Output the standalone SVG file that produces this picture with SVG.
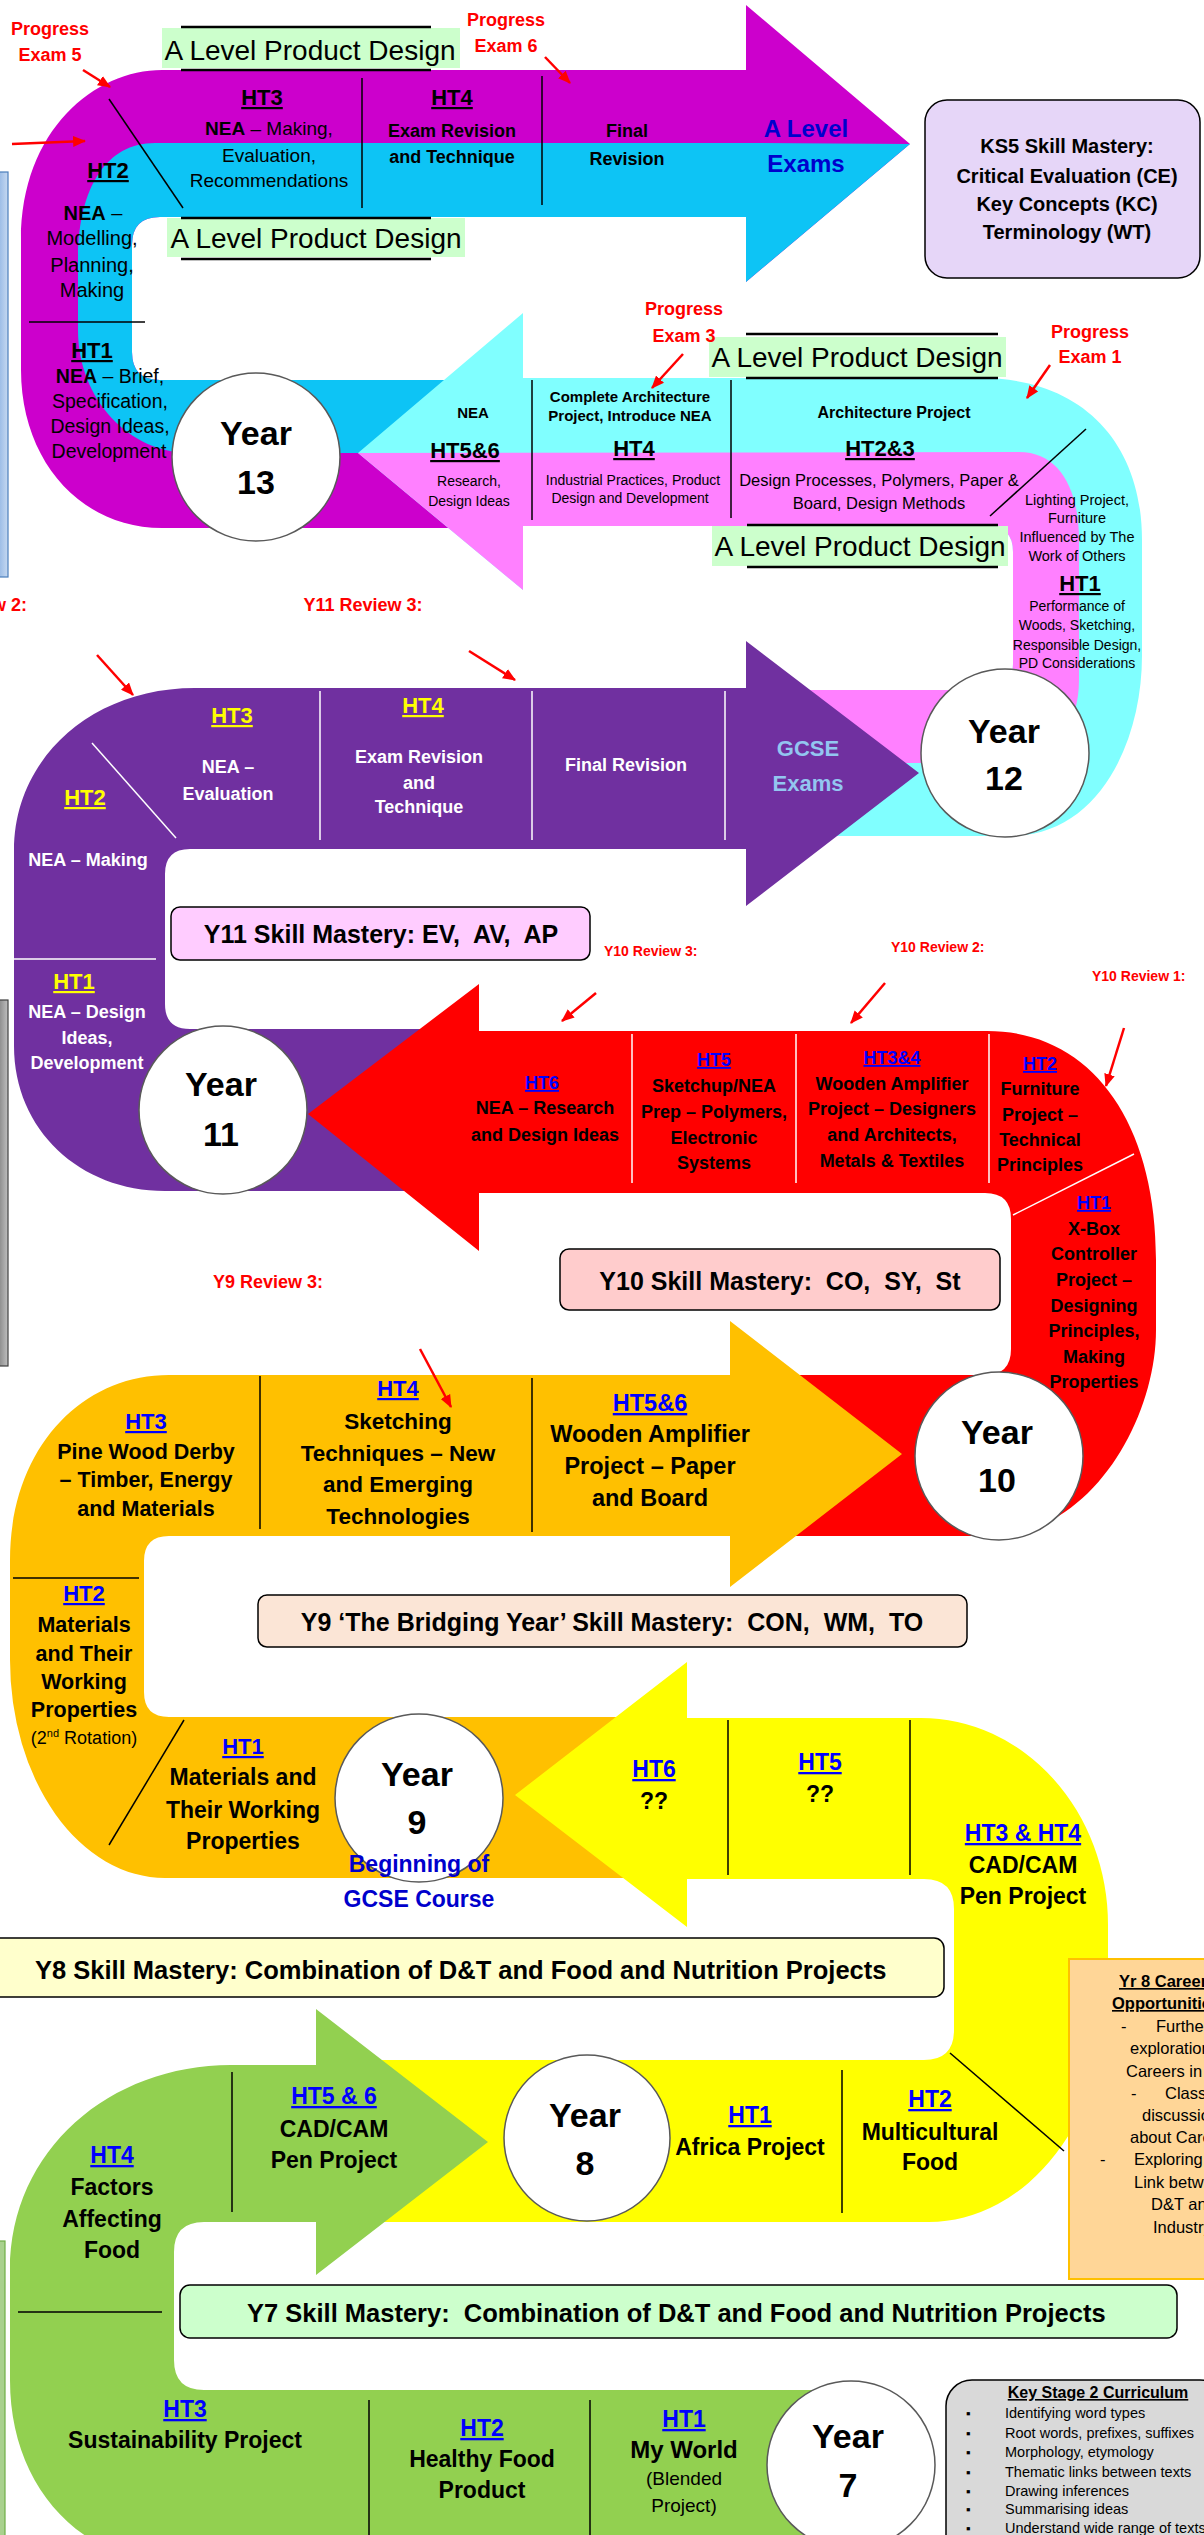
<svg xmlns="http://www.w3.org/2000/svg" width="1204" height="2535" viewBox="0 0 1204 2535">
<style>
text{font-family:"Liberation Sans",Arial,sans-serif;fill:#000}
.b{font-weight:bold}
.c{text-anchor:middle}
.e{text-anchor:end}
.u{text-decoration:underline}
.r{fill:#FF0000}
.bl{fill:#0000FF}
.db{fill:#0000CC}
.y{fill:#FFFF00}
.w{fill:#FFFFFF}
.ln{stroke:#000;stroke-width:1.5;fill:none}
.wl{stroke:#FFFFFF;stroke-width:1.5;fill:none}
.yc{fill:#FFFFFF;stroke:#595959;stroke-width:1.5}
.yt{font-size:34px;font-weight:bold;text-anchor:middle}
.box{stroke:#000;stroke-width:1.5}
.ra{stroke:#FF0000;stroke-width:2.5;fill:none;marker-end:url(#ah)}
.lbl{fill:#CCFFCC}
.bar{stroke:#000;stroke-width:2.5}
.ald{font-size:28px;text-anchor:middle}
</style>
<defs>
<marker id="ah" viewBox="0 0 12 10" refX="11" refY="5" markerWidth="13" markerHeight="11" markerUnits="userSpaceOnUse" orient="auto"><path d="M0,0 L12,5 L0,10 Z" fill="#FF0000"/></marker>
<linearGradient id="gb" x1="0" y1="0" x2="1" y2="0"><stop offset="0" stop-color="#8FB4E3"/><stop offset="1" stop-color="#C6D9F1"/></linearGradient>
<linearGradient id="gy" x1="0" y1="0" x2="1" y2="0"><stop offset="0" stop-color="#7F7F7F"/><stop offset="1" stop-color="#BFBFBF"/></linearGradient>
</defs>
<rect width="1204" height="2535" fill="#FFFFFF"/>

<g id="side-panels">
<rect x="-3" y="172" width="11" height="405" fill="url(#gb)" stroke="#4A7EBB" stroke-width="1.2"/>
<rect x="-3" y="1000" width="11" height="366" fill="url(#gy)" stroke="#404040" stroke-width="1.2"/>
<rect x="-3" y="2241" width="8" height="310" fill="#A9D18E" stroke="#70AD47" stroke-width="1.2"/>
</g>

<g id="year13">
<path fill="#CC00CC" d="M162,70 L746,70 L746,5 L910,144 L746,282 L746,217 L160,217 Q132,217 132,245 L132,352 Q132,380 160,380 L500,380 L500,528 L162,528 C80,528 21,460 21,370 L21,240 C21,130 95,70 162,70 Z"/>
<path fill="#0DC4F5" d="M155,143 L746,143 L910,144 L746,282 L746,217 L160,217 Q132,217 132,245 L132,352 Q132,380 160,380 L500,380 L500,453 L190,453 C130,453 78,400 78,330 L78,260 C78,190 105,143 155,143 Z"/>
<line class="ln" x1="362" y1="78" x2="362" y2="208"/>
<line class="ln" x1="542" y1="76" x2="542" y2="205"/>
<line class="ln" x1="109" y1="99" x2="183" y2="208"/>
<line class="ln" x1="29" y1="322" x2="145" y2="322"/>
<rect class="lbl" x="162" y="28" width="298" height="40"/>
<line class="bar" x1="181" y1="27" x2="431" y2="27"/>
<line class="bar" x1="181" y1="70" x2="431" y2="70"/>
<text class="ald" x="310" y="60">A Level Product Design</text>
<rect class="lbl" x="167" y="218" width="298" height="39"/>
<line class="bar" x1="181" y1="218" x2="431" y2="218"/>
<line class="bar" x1="181" y1="259" x2="431" y2="259"/>
<text class="ald" x="316" y="248">A Level Product Design</text>
<text class="b c u" x="262" y="105" font-size="22">HT3</text>
<text class="c" x="269" y="135" font-size="19"><tspan class="b">NEA</tspan> – Making,</text>
<text class="c" x="269" y="162" font-size="19">Evaluation,</text>
<text class="c" x="269" y="187" font-size="19">Recommendations</text>
<text class="b c u" x="452" y="105" font-size="22">HT4</text>
<text class="b c" x="452" y="137" font-size="18">Exam Revision</text>
<text class="b c" x="452" y="163" font-size="18">and Technique</text>
<text class="b c" x="627" y="137" font-size="18">Final</text>
<text class="b c" x="627" y="165" font-size="18">Revision</text>
<text class="b c db" x="806" y="137" font-size="24">A Level</text>
<text class="b c db" x="806" y="172" font-size="24">Exams</text>
<text class="b c u" x="108" y="178" font-size="22">HT2</text>
<text class="c" x="93" y="220" font-size="20"><tspan class="b">NEA</tspan> –</text>
<text class="c" x="92" y="245" font-size="20">Modelling,</text>
<text class="c" x="92" y="272" font-size="20">Planning,</text>
<text class="c" x="92" y="297" font-size="20">Making</text>
<text class="b c u" x="92" y="358" font-size="22">HT1</text>
<text class="c" x="110" y="383" font-size="19.5"><tspan class="b">NEA</tspan> – Brief,</text>
<text class="c" x="110" y="408" font-size="19.5">Specification,</text>
<text class="c" x="110" y="433" font-size="19.5">Design Ideas,</text>
<text class="c" x="109" y="458" font-size="19.5">Development</text>
<circle class="yc" cx="256" cy="457" r="84"/>
<text class="yt" x="256" y="445">Year</text>
<text class="yt" x="256" y="494">13</text>
</g>

<g id="ks5-box">
<rect class="box" x="925" y="100" width="275" height="178" rx="22" fill="#E6D6F8"/>
<text class="b c" x="1067" y="153" font-size="20">KS5 Skill Mastery:</text>
<text class="b c" x="1067" y="183" font-size="20">Critical Evaluation (CE)</text>
<text class="b c" x="1067" y="211" font-size="20">Key Concepts (KC)</text>
<text class="b c" x="1067" y="239" font-size="20">Terminology (WT)</text>
</g>

<g id="year12">
<path fill="#80FFFF" d="M358,453 L523,313 L523,378 L980,378 C1080,378 1142,440 1142,540 L1142,656 C1142,740 1100,836 1010,836 L780,836 L780,690 L987,690 Q1013,690 1013,664 L1013,552 Q1013,526 987,526 L523,526 L523,590 Z"/>
<path fill="#FF80FF" d="M358,453 L1019,452 C1060,452 1079,490 1079,540 L1079,680 C1079,730 1050,763 1000,763 L780,763 L780,690 L987,690 Q1013,690 1013,664 L1013,552 Q1013,526 987,526 L523,526 L523,590 Z"/>
<line class="ln" x1="532" y1="380" x2="532" y2="520"/>
<line class="ln" x1="731" y1="380" x2="731" y2="518"/>
<line class="ln" x1="990" y1="516" x2="1086" y2="429"/>
<rect class="lbl" x="709" y="337" width="297" height="40"/>
<line class="bar" x1="746" y1="334" x2="998" y2="334"/>
<line class="bar" x1="746" y1="378" x2="998" y2="378"/>
<text class="ald" x="857" y="367">A Level Product Design</text>
<rect class="lbl" x="712" y="526" width="296" height="40"/>
<line class="bar" x1="747" y1="525" x2="998" y2="525"/>
<line class="bar" x1="747" y1="567" x2="998" y2="567"/>
<text class="ald" x="860" y="556">A Level Product Design</text>
<text class="b c" x="473" y="418" font-size="15">NEA</text>
<text class="b c u" x="465" y="458" font-size="22">HT5&amp;6</text>
<text class="c" x="469" y="486" font-size="14">Research,</text>
<text class="c" x="469" y="506" font-size="14">Design Ideas</text>
<text class="b c" x="630" y="402" font-size="15">Complete Architecture</text>
<text class="b c" x="630" y="421" font-size="15">Project, Introduce NEA</text>
<text class="b c u" x="634" y="456" font-size="22">HT4</text>
<text class="c" x="633" y="485" font-size="14">Industrial Practices, Product</text>
<text class="c" x="630" y="503" font-size="14">Design and Development</text>
<text class="b c" x="894" y="418" font-size="16">Architecture Project</text>
<text class="b c u" x="880" y="456" font-size="22">HT2&amp;3</text>
<text class="c" x="879" y="486" font-size="16.5">Design Processes, Polymers, Paper &amp;</text>
<text class="c" x="879" y="509" font-size="16.5">Board, Design Methods</text>
<text class="c" x="1077" y="505" font-size="14.5">Lighting Project,</text>
<text class="c" x="1077" y="523" font-size="14.5">Furniture</text>
<text class="c" x="1077" y="542" font-size="14.5">Influenced by The</text>
<text class="c" x="1077" y="561" font-size="14.5">Work of Others</text>
<text class="b c u" x="1080" y="591" font-size="22">HT1</text>
<text class="c" x="1077" y="611" font-size="14">Performance of</text>
<text class="c" x="1077" y="630" font-size="14">Woods, Sketching,</text>
<text class="c" x="1077" y="650" font-size="14">Responsible Design,</text>
<text class="c" x="1077" y="668" font-size="14">PD Considerations</text>
<circle class="yc" cx="1005" cy="753" r="84"/>
<text class="yt" x="1004" y="743">Year</text>
<text class="yt" x="1004" y="790">12</text>
</g>

<g id="year11">
<path fill="#7030A0" d="M195,688 L746,688 L746,641 L919,773 L746,906 L746,849 L190,849 Q165,849 165,874 L165,1004 Q165,1029 190,1029 L450,1029 L450,1191 L165,1191 C80,1191 14,1130 14,1046 L14,850 C14,760 90,688 195,688 Z"/>
<line class="wl" x1="320" y1="691" x2="320" y2="840"/>
<line class="wl" x1="532" y1="691" x2="532" y2="840"/>
<line class="wl" x1="725" y1="691" x2="725" y2="840"/>
<line class="wl" x1="92" y1="743" x2="176" y2="838"/>
<line class="wl" x1="13" y1="959" x2="156" y2="959"/>
<text class="b c u y" x="232" y="723" font-size="22">HT3</text>
<text class="b c w" x="228" y="773" font-size="18">NEA –</text>
<text class="b c w" x="228" y="800" font-size="18">Evaluation</text>
<text class="b c u y" x="423" y="713" font-size="22">HT4</text>
<text class="b c w" x="419" y="763" font-size="18">Exam Revision</text>
<text class="b c w" x="419" y="789" font-size="18">and</text>
<text class="b c w" x="419" y="813" font-size="18">Technique</text>
<text class="b c w" x="626" y="771" font-size="18">Final Revision</text>
<text class="b c" x="808" y="756" font-size="22" fill="#93C6F0" style="fill:#93C6F0">GCSE</text>
<text class="b c" x="808" y="791" font-size="22" style="fill:#93C6F0">Exams</text>
<text class="b c u y" x="85" y="805" font-size="22">HT2</text>
<text class="b c w" x="88" y="866" font-size="18">NEA – Making</text>
<text class="b c u y" x="74" y="989" font-size="22">HT1</text>
<text class="b c w" x="87" y="1018" font-size="18">NEA – Design</text>
<text class="b c w" x="87" y="1044" font-size="18">Ideas,</text>
<text class="b c w" x="87" y="1069" font-size="18">Development</text>
<circle class="yc" cx="223" cy="1110" r="84"/>
<text class="yt" x="221" y="1096">Year</text>
<text class="yt" x="221" y="1146">11</text>
</g>

<g id="y11-box">
<rect class="box" x="171" y="907" width="419" height="53" rx="9" fill="#FFCCFF"/>
<text class="b c" x="381" y="943" font-size="25">Y11 Skill Mastery: EV,&#160; AV,&#160; AP</text>
</g>

<g id="year10">
<path fill="#FF0000" d="M308,1114 L479,984 L479,1031 L987,1031 C1090,1031 1156,1120 1156,1260 L1156,1330 C1156,1420 1090,1536 990,1536 L760,1536 L760,1375 L985,1375 Q1011,1375 1011,1349 L1011,1219 Q1011,1193 985,1193 L479,1193 L479,1251 Z"/>
<line class="wl" x1="632" y1="1034" x2="632" y2="1183"/>
<line class="wl" x1="796" y1="1034" x2="796" y2="1183"/>
<line class="wl" x1="989" y1="1034" x2="989" y2="1183"/>
<line class="wl" x1="1013" y1="1215" x2="1134" y2="1154"/>
<text class="b c u bl" x="542" y="1089" font-size="18">HT6</text>
<text class="b c" x="545" y="1114" font-size="18">NEA – Research</text>
<text class="b c" x="545" y="1141" font-size="18">and Design Ideas</text>
<text class="b c u bl" x="714" y="1066" font-size="18">HT5</text>
<text class="b c" x="714" y="1092" font-size="18">Sketchup/NEA</text>
<text class="b c" x="714" y="1118" font-size="18">Prep – Polymers,</text>
<text class="b c" x="714" y="1144" font-size="18">Electronic</text>
<text class="b c" x="714" y="1169" font-size="18">Systems</text>
<text class="b c u bl" x="892" y="1064" font-size="18">HT3&amp;4</text>
<text class="b c" x="892" y="1090" font-size="18">Wooden Amplifier</text>
<text class="b c" x="892" y="1115" font-size="18">Project – Designers</text>
<text class="b c" x="892" y="1141" font-size="18">and Architects,</text>
<text class="b c" x="892" y="1167" font-size="18">Metals &amp; Textiles</text>
<text class="b c u bl" x="1040" y="1070" font-size="18">HT2</text>
<text class="b c" x="1040" y="1095" font-size="18">Furniture</text>
<text class="b c" x="1040" y="1121" font-size="18">Project –</text>
<text class="b c" x="1040" y="1146" font-size="18">Technical</text>
<text class="b c" x="1040" y="1171" font-size="18">Principles</text>
<text class="b c u bl" x="1094" y="1209" font-size="18">HT1</text>
<text class="b c" x="1094" y="1235" font-size="18">X-Box</text>
<text class="b c" x="1094" y="1260" font-size="18">Controller</text>
<text class="b c" x="1094" y="1286" font-size="18">Project –</text>
<text class="b c" x="1094" y="1312" font-size="18">Designing</text>
<text class="b c" x="1094" y="1337" font-size="18">Principles,</text>
<text class="b c" x="1094" y="1363" font-size="18">Making</text>
<text class="b c" x="1094" y="1388" font-size="18">Properties</text>
<circle class="yc" cx="999" cy="1456" r="84"/>
<text class="yt" x="997" y="1444">Year</text>
<text class="yt" x="997" y="1492">10</text>
</g>

<g id="y10-box">
<rect class="box" x="560" y="1249" width="440" height="61" rx="9" fill="#FFCCCC"/>
<text class="b c" x="780" y="1290" font-size="25">Y10 Skill Mastery:&#160; CO,&#160; SY,&#160; St</text>
</g>

<g id="year9">
<path fill="#FFC000" d="M169,1375 L730,1375 L730,1321 L902,1454 L730,1587 L730,1536 L169,1536 Q144,1536 144,1561 L144,1692 Q144,1717 169,1717 L650,1717 L650,1878 L165,1878 A155 218 0 0 1 10,1660 L10,1560 C10,1450 80,1375 169,1375 Z"/>
<line class="ln" x1="260" y1="1376" x2="260" y2="1529"/>
<line class="ln" x1="532" y1="1378" x2="532" y2="1532"/>
<line class="ln" x1="13" y1="1578" x2="139" y2="1578"/>
<line class="ln" x1="184" y1="1720" x2="109" y2="1845"/>
<text class="b c u bl" x="146" y="1429" font-size="22">HT3</text>
<text class="b c" x="146" y="1459" font-size="21.5">Pine Wood Derby</text>
<text class="b c" x="146" y="1487" font-size="21.5">– Timber, Energy</text>
<text class="b c" x="146" y="1516" font-size="21.5">and Materials</text>
<text class="b c u bl" x="398" y="1396" font-size="22">HT4</text>
<text class="b c" x="398" y="1429" font-size="22.5">Sketching</text>
<text class="b c" x="398" y="1461" font-size="22.5">Techniques – New</text>
<text class="b c" x="398" y="1492" font-size="22.5">and Emerging</text>
<text class="b c" x="398" y="1524" font-size="22.5">Technologies</text>
<text class="b c u bl" x="650" y="1411" font-size="23.5">HT5&amp;6</text>
<text class="b c" x="650" y="1442" font-size="23.5">Wooden Amplifier</text>
<text class="b c" x="650" y="1474" font-size="23.5">Project – Paper</text>
<text class="b c" x="650" y="1506" font-size="23.5">and Board</text>
<text class="b c u bl" x="84" y="1601" font-size="22">HT2</text>
<text class="b c" x="84" y="1632" font-size="21.5">Materials</text>
<text class="b c" x="84" y="1661" font-size="21.5">and Their</text>
<text class="b c" x="84" y="1689" font-size="21.5">Working</text>
<text class="b c" x="84" y="1717" font-size="21.5">Properties</text>
<text class="c" x="84" y="1744" font-size="18">(2<tspan font-size="11" dy="-7">nd</tspan><tspan dy="7"> Rotation)</tspan></text>
<text class="b c u bl" x="243" y="1754" font-size="22">HT1</text>
<text class="b c" x="243" y="1785" font-size="23">Materials and</text>
<text class="b c" x="243" y="1818" font-size="23">Their Working</text>
<text class="b c" x="243" y="1849" font-size="23">Properties</text>
<circle class="yc" cx="419" cy="1798" r="84"/>
<text class="yt" x="417" y="1786">Year</text>
<text class="yt" x="417" y="1834">9</text>
<text class="b c db" x="419" y="1872" font-size="23">Beginning of</text>
<text class="b c db" x="419" y="1907" font-size="23">GCSE Course</text>
</g>

<g id="y9-box">
<rect class="box" x="258" y="1595" width="709" height="52" rx="9" fill="#FBE5D6"/>
<text class="b c" x="612" y="1631" font-size="25">Y9 &#8216;The Bridging Year&#8217; Skill Mastery:&#160; CON,&#160; WM,&#160; TO</text>
</g>

<g id="year8">
<path fill="#FFFF00" d="M515,1795 L687,1662 L687,1718 L921,1718 A187 207 0 0 1 1108,1925 L1108,1990 A179 232 0 0 1 929,2222 L330,2222 L330,2060 L924,2060 Q954,2060 954,2030 L954,1909 Q954,1879 924,1879 L687,1879 L687,1927 Z"/>
<line class="ln" x1="728" y1="1720" x2="728" y2="1875"/>
<line class="ln" x1="910" y1="1720" x2="910" y2="1875"/>
<line class="ln" x1="950" y1="2053" x2="1064" y2="2151"/>
<line class="ln" x1="842" y1="2070" x2="842" y2="2213"/>
<text class="b c u bl" x="654" y="1777" font-size="23">HT6</text>
<text class="b c" x="654" y="1809" font-size="23">??</text>
<text class="b c u bl" x="820" y="1770" font-size="23">HT5</text>
<text class="b c" x="820" y="1802" font-size="23">??</text>
<text class="b c u bl" x="1023" y="1841" font-size="23">HT3 &amp; HT4</text>
<text class="b c" x="1023" y="1873" font-size="23">CAD/CAM</text>
<text class="b c" x="1023" y="1904" font-size="23">Pen Project</text>
<text class="b c u bl" x="930" y="2107" font-size="23">HT2</text>
<text class="b c" x="930" y="2140" font-size="23">Multicultural</text>
<text class="b c" x="930" y="2170" font-size="23">Food</text>
<text class="b c u bl" x="750" y="2123" font-size="23">HT1</text>
<text class="b c" x="750" y="2155" font-size="23">Africa Project</text>
<circle class="yc" cx="587" cy="2138" r="83"/>
<text class="yt" x="585" y="2127">Year</text>
<text class="yt" x="585" y="2175">8</text>
</g>

<g id="careers-box">
<rect x="1069" y="1959" width="150" height="320" fill="#FFD697" stroke="#FFC000" stroke-width="2"/>
<text class="b u" x="1119" y="1987" font-size="16.5">Yr 8 Careers</text>
<text class="b u" x="1112" y="2009" font-size="16.5">Opportunities</text>
<text x="1121" y="2032" font-size="16.5">-</text>
<text x="1156" y="2032" font-size="16.5">Further</text>
<text x="1130" y="2054" font-size="16.5">exploration of</text>
<text x="1126" y="2077" font-size="16.5">Careers in D&amp;T</text>
<text x="1131" y="2099" font-size="16.5">-</text>
<text x="1165" y="2099" font-size="16.5">Class</text>
<text x="1142" y="2121" font-size="16.5">discussions</text>
<text x="1130" y="2143" font-size="16.5">about Careers</text>
<text x="1100" y="2165" font-size="16.5">-</text>
<text x="1134" y="2165" font-size="16.5">Exploring</text>
<text x="1134" y="2188" font-size="16.5">Link between</text>
<text x="1151" y="2210" font-size="16.5">D&amp;T and</text>
<text x="1153" y="2233" font-size="16.5">Industry</text>
</g>

<g id="y8-box">
<rect class="box" x="-10" y="1938" width="954" height="59" rx="10" fill="#FFFFCC"/>
<text class="b" x="35" y="1979" font-size="25.5">Y8 Skill Mastery: Combination of D&amp;T and Food and Nutrition Projects</text>
</g>

<g id="year7">
<path fill="#92D050" d="M231,2065 L316,2065 L316,2009 L488,2142 L316,2275 L316,2222 L204,2222 Q174,2222 174,2252 L174,2360 Q174,2390 204,2390 L860,2390 L860,2560 L140,2560 C60,2540 10,2470 10,2380 L10,2270 C10,2150 110,2065 231,2065 Z"/>
<line class="ln" x1="232" y1="2072" x2="232" y2="2212"/>
<line class="ln" x1="18" y1="2312" x2="162" y2="2312"/>
<line class="ln" x1="369" y1="2400" x2="369" y2="2535"/>
<line class="ln" x1="590" y1="2400" x2="590" y2="2535"/>
<text class="b c u bl" x="334" y="2104" font-size="23">HT5 &amp; 6</text>
<text class="b c" x="334" y="2137" font-size="23">CAD/CAM</text>
<text class="b c" x="334" y="2168" font-size="23">Pen Project</text>
<text class="b c u bl" x="112" y="2163" font-size="23">HT4</text>
<text class="b c" x="112" y="2195" font-size="23">Factors</text>
<text class="b c" x="112" y="2227" font-size="23">Affecting</text>
<text class="b c" x="112" y="2258" font-size="23">Food</text>
<text class="b c u bl" x="185" y="2417" font-size="23">HT3</text>
<text class="b c" x="185" y="2448" font-size="23">Sustainability Project</text>
<text class="b c u bl" x="482" y="2436" font-size="23">HT2</text>
<text class="b c" x="482" y="2467" font-size="23">Healthy Food</text>
<text class="b c" x="482" y="2498" font-size="23">Product</text>
<text class="b c u bl" x="684" y="2427" font-size="23">HT1</text>
<text class="b c" x="684" y="2458" font-size="24">My World</text>
<text class="c" x="684" y="2485" font-size="19">(Blended</text>
<text class="c" x="684" y="2512" font-size="19">Project)</text>
<circle class="yc" cx="851" cy="2465" r="84"/>
<text class="yt" x="848" y="2448">Year</text>
<text class="yt" x="848" y="2497">7</text>
</g>

<g id="y7-box">
<rect class="box" x="180" y="2285" width="997" height="53" rx="10" fill="#CCFFCC"/>
<text class="b" x="247" y="2322" font-size="25.5">Y7 Skill Mastery:&#160; Combination of D&amp;T and Food and Nutrition Projects</text>
</g>

<g id="ks2-box">
<rect class="box" x="946" y="2380" width="280" height="200" rx="26" fill="#D9D9D9"/>
<text class="b c u" x="1098" y="2398" font-size="16">Key Stage 2 Curriculum</text>
<text x="966" y="2418" font-size="13">▪</text><text x="1005" y="2418" font-size="14.5">Identifying word types</text>
<text x="966" y="2438" font-size="13">▪</text><text x="1005" y="2438" font-size="14.5">Root words, prefixes, suffixes</text>
<text x="966" y="2457" font-size="13">▪</text><text x="1005" y="2457" font-size="14.5">Morphology, etymology</text>
<text x="966" y="2477" font-size="13">▪</text><text x="1005" y="2477" font-size="14.5">Thematic links between texts</text>
<text x="966" y="2496" font-size="13">▪</text><text x="1005" y="2496" font-size="14.5">Drawing inferences</text>
<text x="966" y="2514" font-size="13">▪</text><text x="1005" y="2514" font-size="14.5">Summarising ideas</text>
<text x="966" y="2533" font-size="13">▪</text><text x="1005" y="2533" font-size="14.5">Understand wide range of texts</text>
</g>

<g id="review-labels">
<text class="b c r" x="50" y="35" font-size="18">Progress</text>
<text class="b c r" x="50" y="61" font-size="18">Exam 5</text>
<text class="b c r" x="506" y="26" font-size="18">Progress</text>
<text class="b c r" x="506" y="52" font-size="18">Exam 6</text>
<text class="b c r" x="684" y="315" font-size="18">Progress</text>
<text class="b c r" x="684" y="342" font-size="18">Exam 3</text>
<text class="b c r" x="1090" y="338" font-size="18">Progress</text>
<text class="b c r" x="1090" y="363" font-size="18">Exam 1</text>
<text class="b e r" x="27" y="611" font-size="18">Y11 Review 2:</text>
<text class="b c r" x="363" y="611" font-size="18">Y11 Review 3:</text>
<text class="b r" x="604" y="956" font-size="14">Y10 Review 3:</text>
<text class="b r" x="891" y="952" font-size="14">Y10 Review 2:</text>
<text class="b r" x="1092" y="981" font-size="14">Y10 Review 1:</text>
<text class="b c r" x="268" y="1288" font-size="18">Y9 Review 3:</text>
</g>

<g id="connectors">
<line class="ra" x1="83" y1="70" x2="110" y2="87"/>
<line class="ra" x1="12" y1="144" x2="85" y2="141"/>
<line class="ra" x1="545" y1="57" x2="570" y2="83"/>
<line class="ra" x1="683" y1="354" x2="652" y2="388"/>
<line class="ra" x1="1050" y1="365" x2="1027" y2="398"/>
<line class="ra" x1="97" y1="655" x2="133" y2="695"/>
<line class="ra" x1="469" y1="651" x2="515" y2="680"/>
<line class="ra" x1="596" y1="993" x2="562" y2="1021"/>
<line class="ra" x1="885" y1="983" x2="851" y2="1023"/>
<line class="ra" x1="1124" y1="1028" x2="1106" y2="1086"/>
<line class="ra" x1="420" y1="1349" x2="451" y2="1407"/>
</g>
</svg>
